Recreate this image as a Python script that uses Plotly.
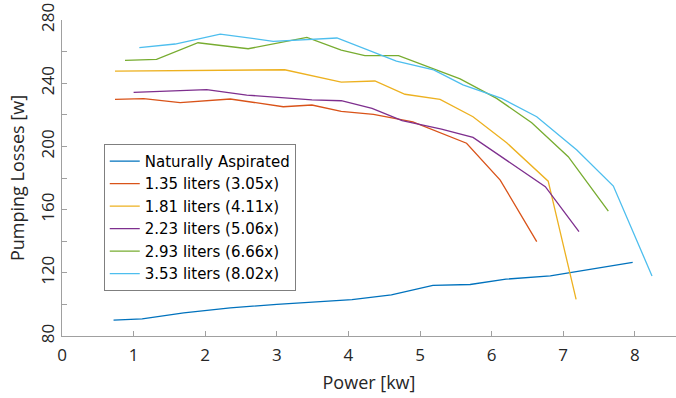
import plotly.graph_objects as go

names = ["Naturally Aspirated", "1.35 liters (3.05x)", "1.81 liters (4.11x)",
         "2.23 liters (5.06x)", "2.93 liters (6.66x)", "3.53 liters (8.02x)"]
colors = ["#0072BD", "#D95319", "#EDB120", "#7E2F8E", "#77AC30", "#4DBEEE"]

na_x = [0.72, 1.12, 1.7, 2.35, 3.0, 3.5, 4.05, 4.6, 5.18, 5.7, 6.2, 6.82, 7.3, 7.97]
na_y = [90, 90.8, 94.6, 97.8, 100, 101.3, 103, 106, 112, 112.6, 116, 118, 121.5, 126.6]

l135_x = [0.74, 1.14, 1.65, 2.35, 3.09, 3.49, 3.9, 4.35, 4.9, 5.65, 6.12, 6.63]
l135_y = [229.8, 230.2, 227.7, 230, 225.1, 226.2, 222.2, 220.3, 215.5, 202, 178.7, 139.7]

l181_x = [0.74, 1.14, 1.65, 2.39, 3.11, 3.9, 4.37, 4.79, 5.28, 5.74, 6.21, 6.79, 7.18]
l181_y = [247.7, 247.9, 247.7, 248.3, 248.5, 240.7, 241.4, 233, 229.8, 218.8, 202.3, 178, 103.2]

l223_x = [1.0, 1.5, 2.02, 2.58, 3.14, 3.49, 3.9, 4.33, 4.75, 5.3, 5.74, 6.21, 6.75, 7.22]
l223_y = [234.2, 235.0, 235.9, 232.5, 230.4, 229.4, 228.9, 224.1, 216.3, 211, 205.7, 191.4, 174.5, 146]

l293_x = [0.88, 1.32, 1.9, 2.6, 3.42, 3.9, 4.23, 4.7, 5.56, 6.07, 6.56, 7.07, 7.63]
l293_y = [254.5, 255.1, 265.6, 261.8, 269, 261, 257.4, 257.4, 242.7, 230.4, 215, 193.5, 159.1]

l353_x = [1.08, 1.58, 2.21, 2.95, 3.84, 4.23, 4.67, 5.19, 5.6, 6.14, 6.63, 7.19, 7.7, 8.24]
l353_y = [262.5, 264.8, 271.1, 266.5, 268.6, 261.6, 254, 248.4, 238.9, 230.4, 218.8, 197.7, 174.9, 118]

xs = [na_x, l135_x, l181_x, l223_x, l293_x, l353_x]
ys = [na_y, l135_y, l181_y, l223_y, l293_y, l353_y]

fig = go.Figure()
for n, c, x, y in zip(names, colors, xs, ys):
    fig.add_trace(go.Scatter(x=x, y=y, mode="lines", name=n,
                             line=dict(color=c, width=1.3)))

axis_font = dict(family="Open Sans", size=17, color="#262626")
fig.update_layout(
    width=676, height=398,
    margin=dict(l=62, r=0, t=20, b=62),
    plot_bgcolor="white", paper_bgcolor="white",
    showlegend=True,
    legend=dict(x=0.068, y=0.608, xanchor="left", yanchor="top",
                bordercolor="#7f7f7f", borderwidth=1, bgcolor="white",
                font=dict(family="DejaVu Sans", size=15, color="#000000"),
                tracegroupgap=0, itemwidth=30),
    xaxis=dict(range=[0, 8.575], tickmode="linear", tick0=0, dtick=1,
               showgrid=False, zeroline=False, showline=True,
               linecolor="#a0a0a0", linewidth=1, ticks="inside", ticklen=5,
               tickcolor="#a0a0a0", tickfont=axis_font, ticklabelstandoff=4,
               title=dict(text="Power [kw]", font=dict(family="Open Sans", size=18, color="#262626"),
                          standoff=10)),
    yaxis=dict(range=[80, 280], tickmode="linear", tick0=80, dtick=40,
               showgrid=False, zeroline=False, showline=True,
               linecolor="#a0a0a0", linewidth=1, ticks="inside", ticklen=5,
               tickcolor="#a0a0a0", tickfont=axis_font, tickangle=-90,
               minor=dict(dtick=20, ticks="inside", ticklen=5, tickcolor="#a0a0a0", showgrid=False),
               title=dict(text="Pumping Losses [w]", font=dict(family="Open Sans", size=18, color="#262626"),
                          standoff=6)),
)

fig.write_html("out.html")
